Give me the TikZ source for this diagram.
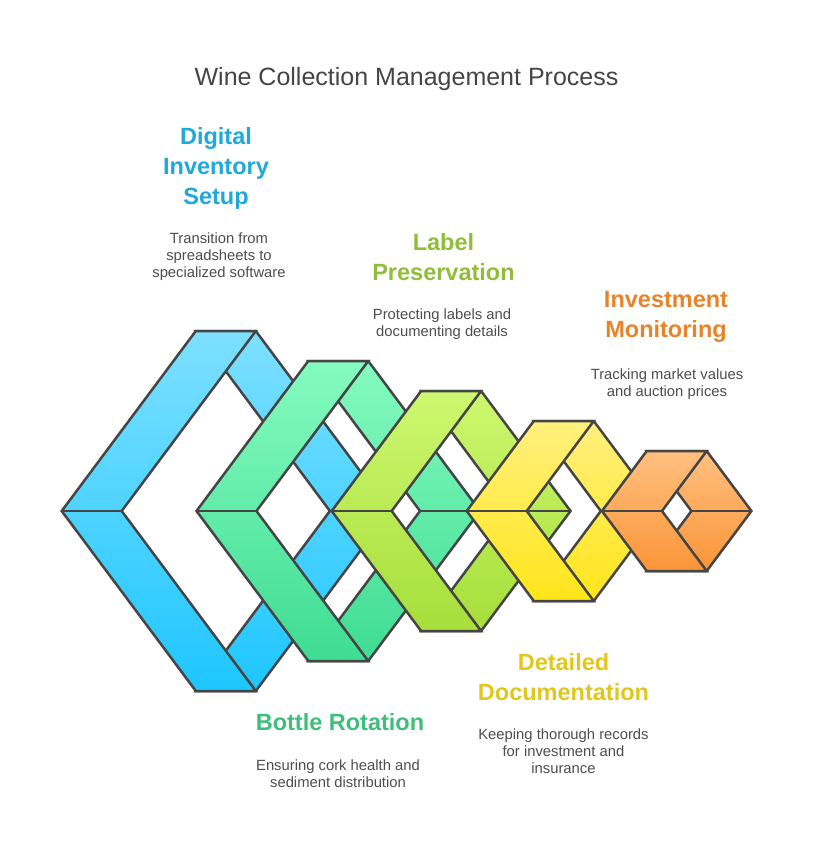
\documentclass[tikz,border=0pt]{standalone}
\usepackage{fontspec}
\setmainfont{Liberation Sans}
\definecolor{strokec}{HTML}{454545}
\definecolor{titlec}{HTML}{454545}
\definecolor{descc}{HTML}{4D4D4D}
\definecolor{bluetop}{HTML}{7EE0FF}
\definecolor{bluebot}{HTML}{1EC6FF}
\definecolor{greentop}{HTML}{85FBC0}
\definecolor{greenbot}{HTML}{3FDC93}
\definecolor{limetop}{HTML}{CEF870}
\definecolor{limebot}{HTML}{A6DE3A}
\definecolor{yeltop}{HTML}{FFF07E}
\definecolor{yelbot}{HTML}{FFE51A}
\definecolor{orgtop}{HTML}{FFC080}
\definecolor{orgbot}{HTML}{FB9538}
\definecolor{hblue}{HTML}{1FA8DB}
\definecolor{hlime}{HTML}{8FBF3A}
\definecolor{horange}{HTML}{E8832A}
\definecolor{hgreen}{HTML}{3DBF7A}
\definecolor{hyellow}{HTML}{E1C61C}
\tikzset{
  shapeline/.style={draw=strokec, line width=2.5pt, line join=miter},
  heading/.style={align=center, font={\fontsize{23.5}{30}\selectfont\bfseries}},
  desc/.style={align=center, text=descc, font={\fontsize{14.8}{17}\selectfont}},
}
\begin{document}
\begin{tikzpicture}[x=1pt,y=-1pt]
\useasboundingbox (0,0) rectangle (813,858);
\foreach \i/\lx/\h/\ct/\cb in {0/61.7/180/bluetop/bluebot, 1/196.5/150/greentop/greenbot, 2/331.7/120/limetop/limebot, 3/466.7/90/yeltop/yelbot, 4/602/60/orgtop/orgbot}{
  \pgfmathsetmacro\dx{0.745*\h}
  \coordinate (L\i) at (\lx,511);
  \coordinate (TL\i) at ({\lx+\dx},{511-\h});
  \coordinate (TR\i) at ({\lx+\dx+60},{511-\h});
  \coordinate (R\i) at ({\lx+2*\dx+60},511);
  \coordinate (BR\i) at ({\lx+\dx+60},{511+\h});
  \coordinate (BL\i) at ({\lx+\dx},{511+\h});
  \coordinate (IL\i) at ({\lx+60},511);
  \coordinate (IR\i) at ({\lx+2*\dx},511);
  \path[shapeline, top color=\ct, bottom color=\cb] (TL\i) -- (TR\i) -- (R\i) -- (BR\i) -- (BL\i) -- (IR\i) -- cycle;
  \draw[shapeline] (IR\i) -- (R\i);
  \path[shapeline, top color=\ct, bottom color=\cb] (L\i) -- (TL\i) -- (TR\i) -- (IL\i) -- (BR\i) -- (BL\i) -- cycle;
  \draw[shapeline] (L\i) -- (IL\i);
}
\node[text=titlec, font={\fontsize{25}{30}\selectfont}] (title) at (406.5,79) {Wine Collection Management Process};
\node[heading, text=hblue] (h1) at (216,168) {Digital\\Inventory\\Setup};
\node[desc] (d1) at (219,256.5) {Transition from\\spreadsheets to\\specialized software};
\node[heading, text=hlime] (h2) at (443.5,257) {Label\\Preservation};
\node[desc] (d2) at (442,324) {Protecting labels and\\documenting details};
\node[heading, text=horange] (h3) at (666,317) {Investment\\Monitoring};
\node[desc] (d3) at (667,384) {Tracking market values\\and auction prices};
\node[heading, text=hgreen] (h4) at (340,722) {Bottle Rotation};
\node[desc] (d4) at (338,774) {Ensuring cork health and\\sediment distribution};
\node[heading, text=hyellow] (h5) at (563.5,677) {Detailed\\Documentation};
\node[desc] (d5) at (563.5,751.5) {Keeping thorough records\\for investment and\\insurance};
\end{tikzpicture}
\end{document}
